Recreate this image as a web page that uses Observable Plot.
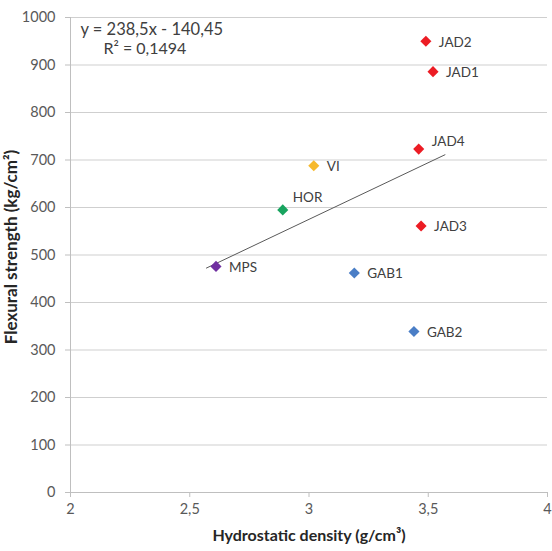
<!DOCTYPE html>
<html>
<head>
<meta charset="utf-8">
<script src="https://cdn.jsdelivr.net/npm/d3@7"></script>
<script src="https://cdn.jsdelivr.net/npm/@observablehq/plot@0.6"></script>
<style>
  html, body { margin: 0; padding: 0; background: #fff; }
</style>
</head>
<body>
<div id="chart"></div>
<script>
// Data
const names   = ["JAD2", "JAD1", "JAD4", "VI", "HOR", "JAD3", "MPS", "GAB1", "GAB2"];
const density = [3.49, 3.52, 3.46, 3.02, 2.89, 3.47, 2.61, 3.19, 3.44];
const strength = [950, 886, 723, 688, 595, 561, 476, 462, 339];
const groups  = ["JAD", "JAD", "JAD", "VI", "HOR", "JAD", "MPS", "GAB", "GAB"];

const xTicks = [2, 2.5, 3, 3.5, 4];
const yTicks = [0, 100, 200, 300, 400, 500, 600, 700, 800, 900, 1000];

// Trendline (from the shown equation) and its plotted extent
const slope = 238.5, intercept = -140.45;
const trendX = [2.57, 3.57];
const equationText = "y = 238,5x - 140,45";
const r2Text = "R² = 0,1494";

const xLabel = "Hydrostatic density (g/cm³)";
const yLabel = "Flexural strength (kg/cm²)";

// Styling (kept apart from the data)
const groupColors = {JAD: "#ec1c24", VI: "#f6b92d", HOR: "#18a45f", MPS: "#7030a0", GAB: "#4a7ec6"};
const labelOffsets = {HOR: [10, -12], JAD4: [13, -7]};

const points = names.map((n, i) => ({name: n, x: density[i], y: strength[i], group: groups[i]}));
const trend = trendX.map(x => ({x, y: slope * x + intercept}));
const comma = d => String(d).replace(".", ",");

const normal = points.filter(d => !labelOffsets[d.name]);
const special = points.filter(d => labelOffsets[d.name]);

const chart = Plot.plot({
  width: 552,
  height: 551,
  marginLeft: 70,
  marginRight: 5,
  marginTop: 17,
  marginBottom: 59,
  style: {fontFamily: "Lato, sans-serif", fontSize: "14.5px", background: "#fff"},
  x: {domain: [2, 4]},
  y: {domain: [0, 1000]},
  marks: [
    Plot.gridY(yTicks, {stroke: "#cfcfcf", strokeOpacity: 1}),
    Plot.axisY(yTicks, {tickSize: 5, tickPadding: 10, stroke: "#bfbfbf", fill: "#595959", label: null, tickFormat: d => String(d), fontSize: 14.5}),
    Plot.axisX(xTicks, {tickSize: 5, tickPadding: 6, stroke: "#bfbfbf", fill: "#595959", label: null, tickFormat: comma, fontSize: 14.5}),
    Plot.ruleX([2], {stroke: "#bfbfbf"}),
    Plot.ruleY([0], {stroke: "#bfbfbf"}),
    Plot.line(trend, {x: "x", y: "y", stroke: "#595959", strokeWidth: 1}),
    Plot.dot(points, {x: "x", y: "y", symbol: "diamond2", r: 5, fill: d => groupColors[d.group], stroke: "none"}),
    Plot.text(normal, {x: "x", y: "y", text: "name", textAnchor: "start", dx: 13, dy: 1, fill: "#404040", fontSize: 13.5}),
    ...special.map(d => Plot.text([d], {x: "x", y: "y", text: "name", textAnchor: "start", dx: labelOffsets[d.name][0], dy: labelOffsets[d.name][1], fill: "#404040", fontSize: 13.5})),
    Plot.text([equationText], {frameAnchor: "top-left", dx: 10, dy: 12, lineAnchor: "middle", textAnchor: "start", fill: "#404040", fontSize: 16.5}),
    Plot.text([r2Text], {frameAnchor: "top-left", dx: 33, dy: 31, lineAnchor: "middle", textAnchor: "start", fill: "#404040", fontSize: 16}),
    Plot.text([xLabel], {frameAnchor: "bottom", dy: 43, lineAnchor: "middle", textAnchor: "middle", fontWeight: "bold", fill: "#262626", fontSize: 16}),
    Plot.text([yLabel], {frameAnchor: "left", dx: -59, dy: -8, rotate: -90, lineAnchor: "middle", textAnchor: "middle", fontWeight: "bold", fill: "#262626", fontSize: 17})
  ]
});
document.getElementById("chart").appendChild(chart);
</script>
</body>
</html>
